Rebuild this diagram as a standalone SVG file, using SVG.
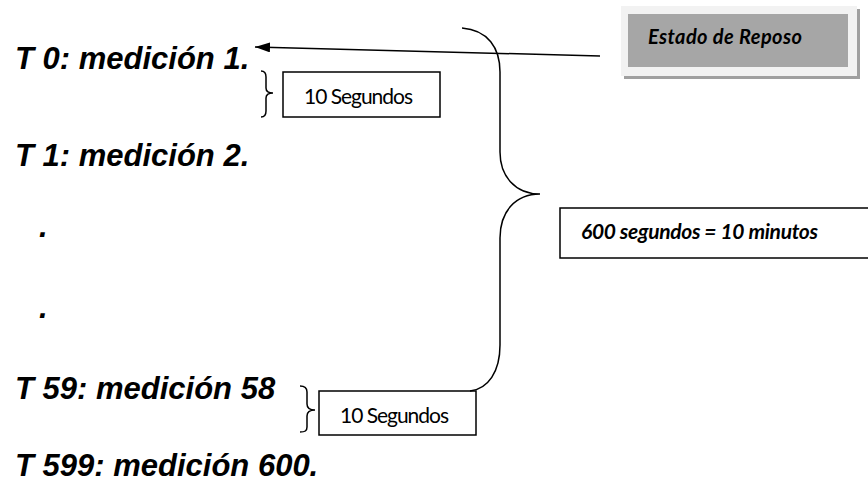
<svg xmlns="http://www.w3.org/2000/svg" width="868" height="486" viewBox="0 0 868 486">
<defs>
<style>
.big{font-family:"Liberation Sans",Arial,sans-serif;font-weight:bold;font-style:italic;font-size:31px;fill:#000}
.cal{font-family:Lato,"Open Sans",sans-serif;fill:#000}
.bi{font-weight:bold;font-style:italic}
.line{fill:none;stroke:#000;stroke-width:1.5}
.box{fill:#fff;stroke:#000;stroke-width:1.5}
</style>
<marker id="ah" markerUnits="userSpaceOnUse" viewBox="0 0 15 10" refX="15" refY="5" markerWidth="15" markerHeight="10" orient="auto">
<path d="M0,0 L15,5 L0,10 z" fill="#000"/>
</marker>
</defs>
<rect width="868" height="486" fill="#fff"/>

<g id="t0"><text class="big" x="15" y="69">T 0: medición 1.</text></g>
<g id="t1"><text class="big" x="15" y="166">T 1: medición 2.</text></g>
<g id="dot1"><text class="big" x="39" y="237">.</text></g>
<g id="dot2"><text class="big" x="39" y="318">.</text></g>
<g id="t59"><text class="big" x="15" y="399">T 59: medición 58</text></g>
<g id="t599"><text class="big" x="15" y="476">T 599: medición 600.</text></g>

<g id="reposo">
<rect x="624" y="9" width="236" height="70" fill="#a0a0a0"/>
<rect x="621" y="6" width="236" height="70" fill="#f2f2f2"/>
<rect x="628" y="14" width="220" height="53" fill="#a6a6a6"/>
<text class="cal bi" x="648" y="44" font-size="20" textLength="154">Estado de Reposo</text>
</g>

<g id="seg1">
<rect class="box" x="283" y="72" width="157" height="45"/>
<text class="cal" x="304" y="104" font-size="21" textLength="109">10 Segundos</text>
</g>

<g id="seg2">
<rect class="box" x="319" y="391" width="157" height="44"/>
<text class="cal" x="340" y="423" font-size="21" textLength="109">10 Segundos</text>
</g>

<g id="total">
<rect class="box" x="560" y="208" width="312" height="50"/>
<text class="cal bi" x="581" y="239" font-size="21" textLength="237">600 segundos = 10 minutos</text>
</g>

<g id="connectors">
<line class="line" x1="600" y1="56" x2="255" y2="47" marker-end="url(#ah)"/>
<path class="line" d="M462 28 C488 30 500 48 500 72 L500 152 C500 176 515 194 540 194 C515 194 500 212 500 238 L500 345 C500 372 488 389 470 391"/>
<path class="line" d="M261 71 C265 71 266 73 266 77 L266 88 C266 91 268 93 273 93 C268 93 266 95 266 98 L266 111 C266 115 265 117 261 117"/>
<path class="line" d="M300 386 C305 386 307 388 307 392 L307 404 C307 407 309 410 315 410 C309 410 307 413 307 416 L307 427 C307 431 305 432 300 432"/>
</g>
</svg>
